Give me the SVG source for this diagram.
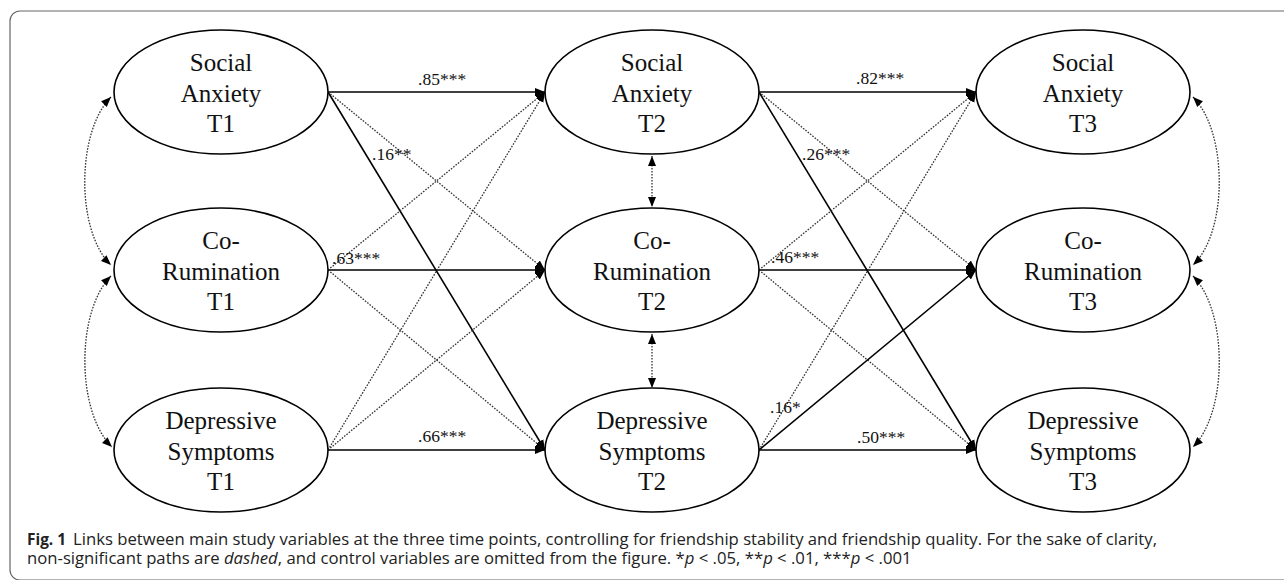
<svg xmlns="http://www.w3.org/2000/svg" width="1284" height="580" viewBox="0 0 1284 580">
<defs>
<marker id="ah" viewBox="0 0 10 10" refX="10" refY="5" markerWidth="10" markerHeight="10" markerUnits="userSpaceOnUse" orient="auto-start-reverse">
<path d="M0,1 L10,5 L0,9 Z" fill="#000"/>
</marker>
<style>
.node ellipse{fill:#fff;stroke:#000;stroke-width:1.6}
.node text{font-family:"Liberation Serif","Times New Roman",serif;font-size:25px;fill:#111;text-anchor:middle}
.sol{stroke:#000;stroke-width:1.6;fill:none;marker-end:url(#ah)}
.dot{stroke:#333;stroke-width:1.3;stroke-dasharray:1.6 1.4;fill:none;marker-end:url(#ah)}
.cov{stroke:#333;stroke-width:1.3;stroke-dasharray:1.6 1.4;fill:none;marker-start:url(#ah);marker-end:url(#ah)}
.lab{font-family:"Liberation Serif","Times New Roman",serif;font-size:17.5px;fill:#111}
.cap{font-family:"Open Sans","Noto Sans","Liberation Sans",sans-serif;font-size:16.7px;fill:#222}
</style>
</defs>
<rect x="10" y="11" width="1310" height="569" rx="10" fill="#fff" stroke="#666" stroke-width="1.2"/>
<g id="connectors">
<line class="sol" x1="328" y1="92" x2="545" y2="92"/>
<line class="sol" x1="328" y1="92" x2="545" y2="450"/>
<line class="dot" x1="328" y1="92" x2="545" y2="270"/>
<line class="sol" x1="328" y1="270" x2="545" y2="270"/>
<line class="dot" x1="328" y1="270" x2="545" y2="92"/>
<line class="dot" x1="328" y1="270" x2="545" y2="450"/>
<line class="sol" x1="328" y1="450" x2="545" y2="450"/>
<line class="dot" x1="328" y1="450" x2="545" y2="92"/>
<line class="dot" x1="328" y1="450" x2="545" y2="270"/>
<line class="sol" x1="759" y1="92" x2="976" y2="92"/>
<line class="sol" x1="759" y1="92" x2="976" y2="450"/>
<line class="dot" x1="759" y1="92" x2="976" y2="270"/>
<line class="sol" x1="759" y1="270" x2="976" y2="270"/>
<line class="dot" x1="759" y1="270" x2="976" y2="92"/>
<line class="dot" x1="759" y1="270" x2="976" y2="450"/>
<line class="sol" x1="759" y1="450" x2="976" y2="450"/>
<line class="dot" x1="759" y1="450" x2="976" y2="92"/>
<line class="sol" x1="759" y1="450" x2="976" y2="270"/>
<path class="cov" d="M111,97 C76,132 76,232 111,265"/>
<path class="cov" d="M111,276 C76,311 76,412 112,447"/>
<path class="cov" d="M652,156 L652,207"/>
<path class="cov" d="M652,334 L652,388"/>
<path class="cov" d="M1193,97 C1228,132 1228,232 1193,265"/>
<path class="cov" d="M1193,276 C1228,311 1228,412 1193,447"/>
</g>
<g id="labels">
<text class="lab" x="418" y="85">.85***</text>
<text class="lab" x="372" y="160">.16**</text>
<text class="lab" x="332" y="264">.63***</text>
<text class="lab" x="418" y="442">.66***</text>
<text class="lab" x="856" y="84">.82***</text>
<text class="lab" x="802" y="160">.26***</text>
<text class="lab" x="771" y="263">.46***</text>
<text class="lab" x="770" y="413">.16*</text>
<text class="lab" x="857" y="443">.50***</text>
</g>
<g id="SA1" class="node"><ellipse cx="221" cy="92" rx="107" ry="62"/><text x="221" y="71">Social</text><text x="221" y="101.5">Anxiety</text><text x="221" y="132">T1</text></g>
<g id="CR1" class="node"><ellipse cx="221" cy="270" rx="107" ry="62"/><text x="221" y="249">Co-</text><text x="221" y="279.5">Rumination</text><text x="221" y="310">T1</text></g>
<g id="DS1" class="node"><ellipse cx="221" cy="450" rx="107" ry="62"/><text x="221" y="429">Depressive</text><text x="221" y="459.5">Symptoms</text><text x="221" y="490">T1</text></g>
<g id="SA2" class="node"><ellipse cx="652" cy="92" rx="107" ry="62"/><text x="652" y="71">Social</text><text x="652" y="101.5">Anxiety</text><text x="652" y="132">T2</text></g>
<g id="CR2" class="node"><ellipse cx="652" cy="270" rx="107" ry="62"/><text x="652" y="249">Co-</text><text x="652" y="279.5">Rumination</text><text x="652" y="310">T2</text></g>
<g id="DS2" class="node"><ellipse cx="652" cy="450" rx="107" ry="62"/><text x="652" y="429">Depressive</text><text x="652" y="459.5">Symptoms</text><text x="652" y="490">T2</text></g>
<g id="SA3" class="node"><ellipse cx="1083" cy="92" rx="107" ry="62"/><text x="1083" y="71">Social</text><text x="1083" y="101.5">Anxiety</text><text x="1083" y="132">T3</text></g>
<g id="CR3" class="node"><ellipse cx="1083" cy="270" rx="107" ry="62"/><text x="1083" y="249">Co-</text><text x="1083" y="279.5">Rumination</text><text x="1083" y="310">T3</text></g>
<g id="DS3" class="node"><ellipse cx="1083" cy="450" rx="107" ry="62"/><text x="1083" y="429">Depressive</text><text x="1083" y="459.5">Symptoms</text><text x="1083" y="490">T3</text></g>
<g id="caption">
<text class="cap" x="27" y="545" font-weight="bold" textLength="39" lengthAdjust="spacingAndGlyphs">Fig. 1</text>
<text class="cap" x="73" y="545">Links between main study variables at the three time points, controlling for friendship stability and friendship quality. For the sake of clarity,</text>
<text class="cap" x="27" y="563.5">non-significant paths are <tspan font-style="italic">dashed</tspan>, and control variables are omitted from the figure. *<tspan font-style="italic">p</tspan> &lt; .05, **<tspan font-style="italic">p</tspan> &lt; .01, ***<tspan font-style="italic">p</tspan> &lt; .001</text>
</g>
</svg>
